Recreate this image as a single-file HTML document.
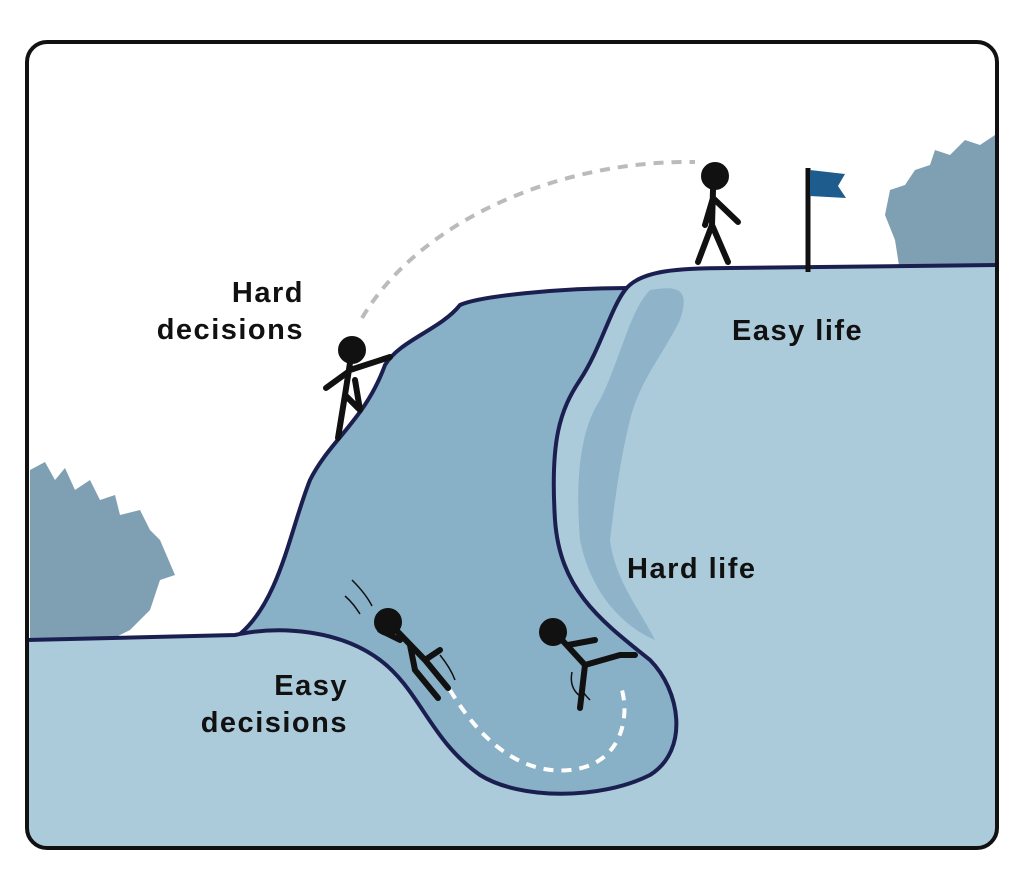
<!DOCTYPE html>
<html><head><meta charset="utf-8"><style>
html,body{margin:0;padding:0;background:#fff;width:1024px;height:888px;overflow:hidden}
svg{display:block}
text{font-family:"Liberation Sans",sans-serif;font-weight:bold;font-size:29px;letter-spacing:1.5px;fill:#111}
</style></head><body>
<svg width="1024" height="888" viewBox="0 0 1024 888" xmlns="http://www.w3.org/2000/svg">
<defs><clipPath id="c"><rect x="27" y="42" width="970" height="806" rx="20"/></clipPath></defs>
<rect x="0" y="0" width="1024" height="888" fill="#fff"/>
<g clip-path="url(#c)">
<g fill="#7f9fb3">
<path d="M30,640 L30,470 L45,462 L55,480 L65,468 L75,490 L90,480 L100,500 L115,495 L120,515 L140,510 L150,530 L160,540 L175,575 L160,580 L150,610 L130,630 L110,640 Z"/>
<path d="M995,272 L900,272 L895,240 L885,215 L890,190 L905,185 L915,170 L930,165 L935,150 L950,155 L965,140 L980,145 L995,135 Z"/>
</g>
<path d="M240,634 C280,600 290,530 310,480 C330,440 365,420 385,365 C400,340 440,330 460,305 C480,296 560,288 628,288 L700,300 L720,810 L240,810 Z" fill="#88b0c6"/>
<path d="M27,640 L235,635 C280,625 340,630 380,660 C420,690 430,740 480,775 C520,800 600,800 650,775 C690,750 680,690 650,660 C600,620 560,590 555,520 C550,440 560,410 580,380 C600,350 610,310 625,290 C640,270 680,268 730,268 L997,265 L997,848 L27,848 Z" fill="#abcbdb"/>
<path d="M650,290 C680,285 690,290 680,320 C660,360 640,380 630,420 C620,460 615,500 610,540 C615,580 640,610 655,640 C620,625 590,590 580,540 C575,480 580,430 600,400 C620,360 630,310 650,290 Z" fill="#8fb4c9"/>
<path d="M27,640 L235,635 C280,625 340,630 380,660 C420,690 430,740 480,775 C520,800 600,800 650,775 C690,750 680,690 650,660 C600,620 560,590 555,520 C550,440 560,410 580,380 C600,350 610,310 625,290 C640,270 680,268 730,268 L997,265" fill="none" stroke="#1b1f4f" stroke-width="4"/>
<path d="M240,634 C280,600 290,530 310,480 C330,440 365,420 385,365 C400,340 440,330 460,305 C480,296 560,288 628,288" fill="none" stroke="#1b1f4f" stroke-width="4"/>
</g>
<rect x="27" y="42" width="970" height="806" rx="20" fill="none" stroke="#111" stroke-width="4"/>
<path d="M362,318 C420,220 560,160 695,162" fill="none" stroke="#bbb" stroke-width="4" stroke-dasharray="10,8"/>
<path d="M450,690 C480,740 520,775 570,770 C620,765 630,720 622,690" fill="none" stroke="#fff" stroke-width="4" stroke-dasharray="10,8"/>
<line x1="808" y1="168" x2="808" y2="272" stroke="#111" stroke-width="5"/>
<path d="M810,170 L845,174 L838,186 L846,198 L810,196 Z" fill="#1d5c8c"/>
<g stroke="#111" stroke-width="6" fill="none" stroke-linecap="round" stroke-linejoin="round">
<circle cx="715" cy="176" r="11" fill="#111"/>
<path d="M713,190 L712,225 L698,262 M712,225 L728,262 M713,198 L738,222 M713,198 L705,225"/>
<circle cx="352" cy="350" r="11" fill="#111"/>
<path d="M350,363 L345,395 L338,438 M345,395 L360,410 L355,380 M350,370 L390,357 M348,372 L326,388"/>
<circle cx="388" cy="622" r="11" fill="#111"/>
<path d="M398,632 L425,660 L448,688 M425,660 L440,650 M410,645 L415,670 L438,698 M400,640 L380,630"/>
<circle cx="553" cy="632" r="11" fill="#111"/>
<path d="M562,640 L585,665 L580,708 M585,665 L620,655 L635,655 M568,645 L595,640"/>
</g>
<g stroke="#111" stroke-width="1.5" fill="none">
<path d="M352,580 C362,590 368,598 372,606 M345,596 C352,602 356,608 360,614 M440,655 C448,665 452,672 455,680"/>
<path d="M572,672 C570,682 572,690 580,696 M582,686 C582,692 586,696 590,700"/>
</g>
<text x="304" y="302" text-anchor="end">Hard</text>
<text x="304" y="339" text-anchor="end">decisions</text>
<text x="732" y="340">Easy life</text>
<text x="627" y="578">Hard life</text>
<text x="348" y="695" text-anchor="end">Easy</text>
<text x="348" y="732" text-anchor="end">decisions</text>
</svg>
</body></html>
